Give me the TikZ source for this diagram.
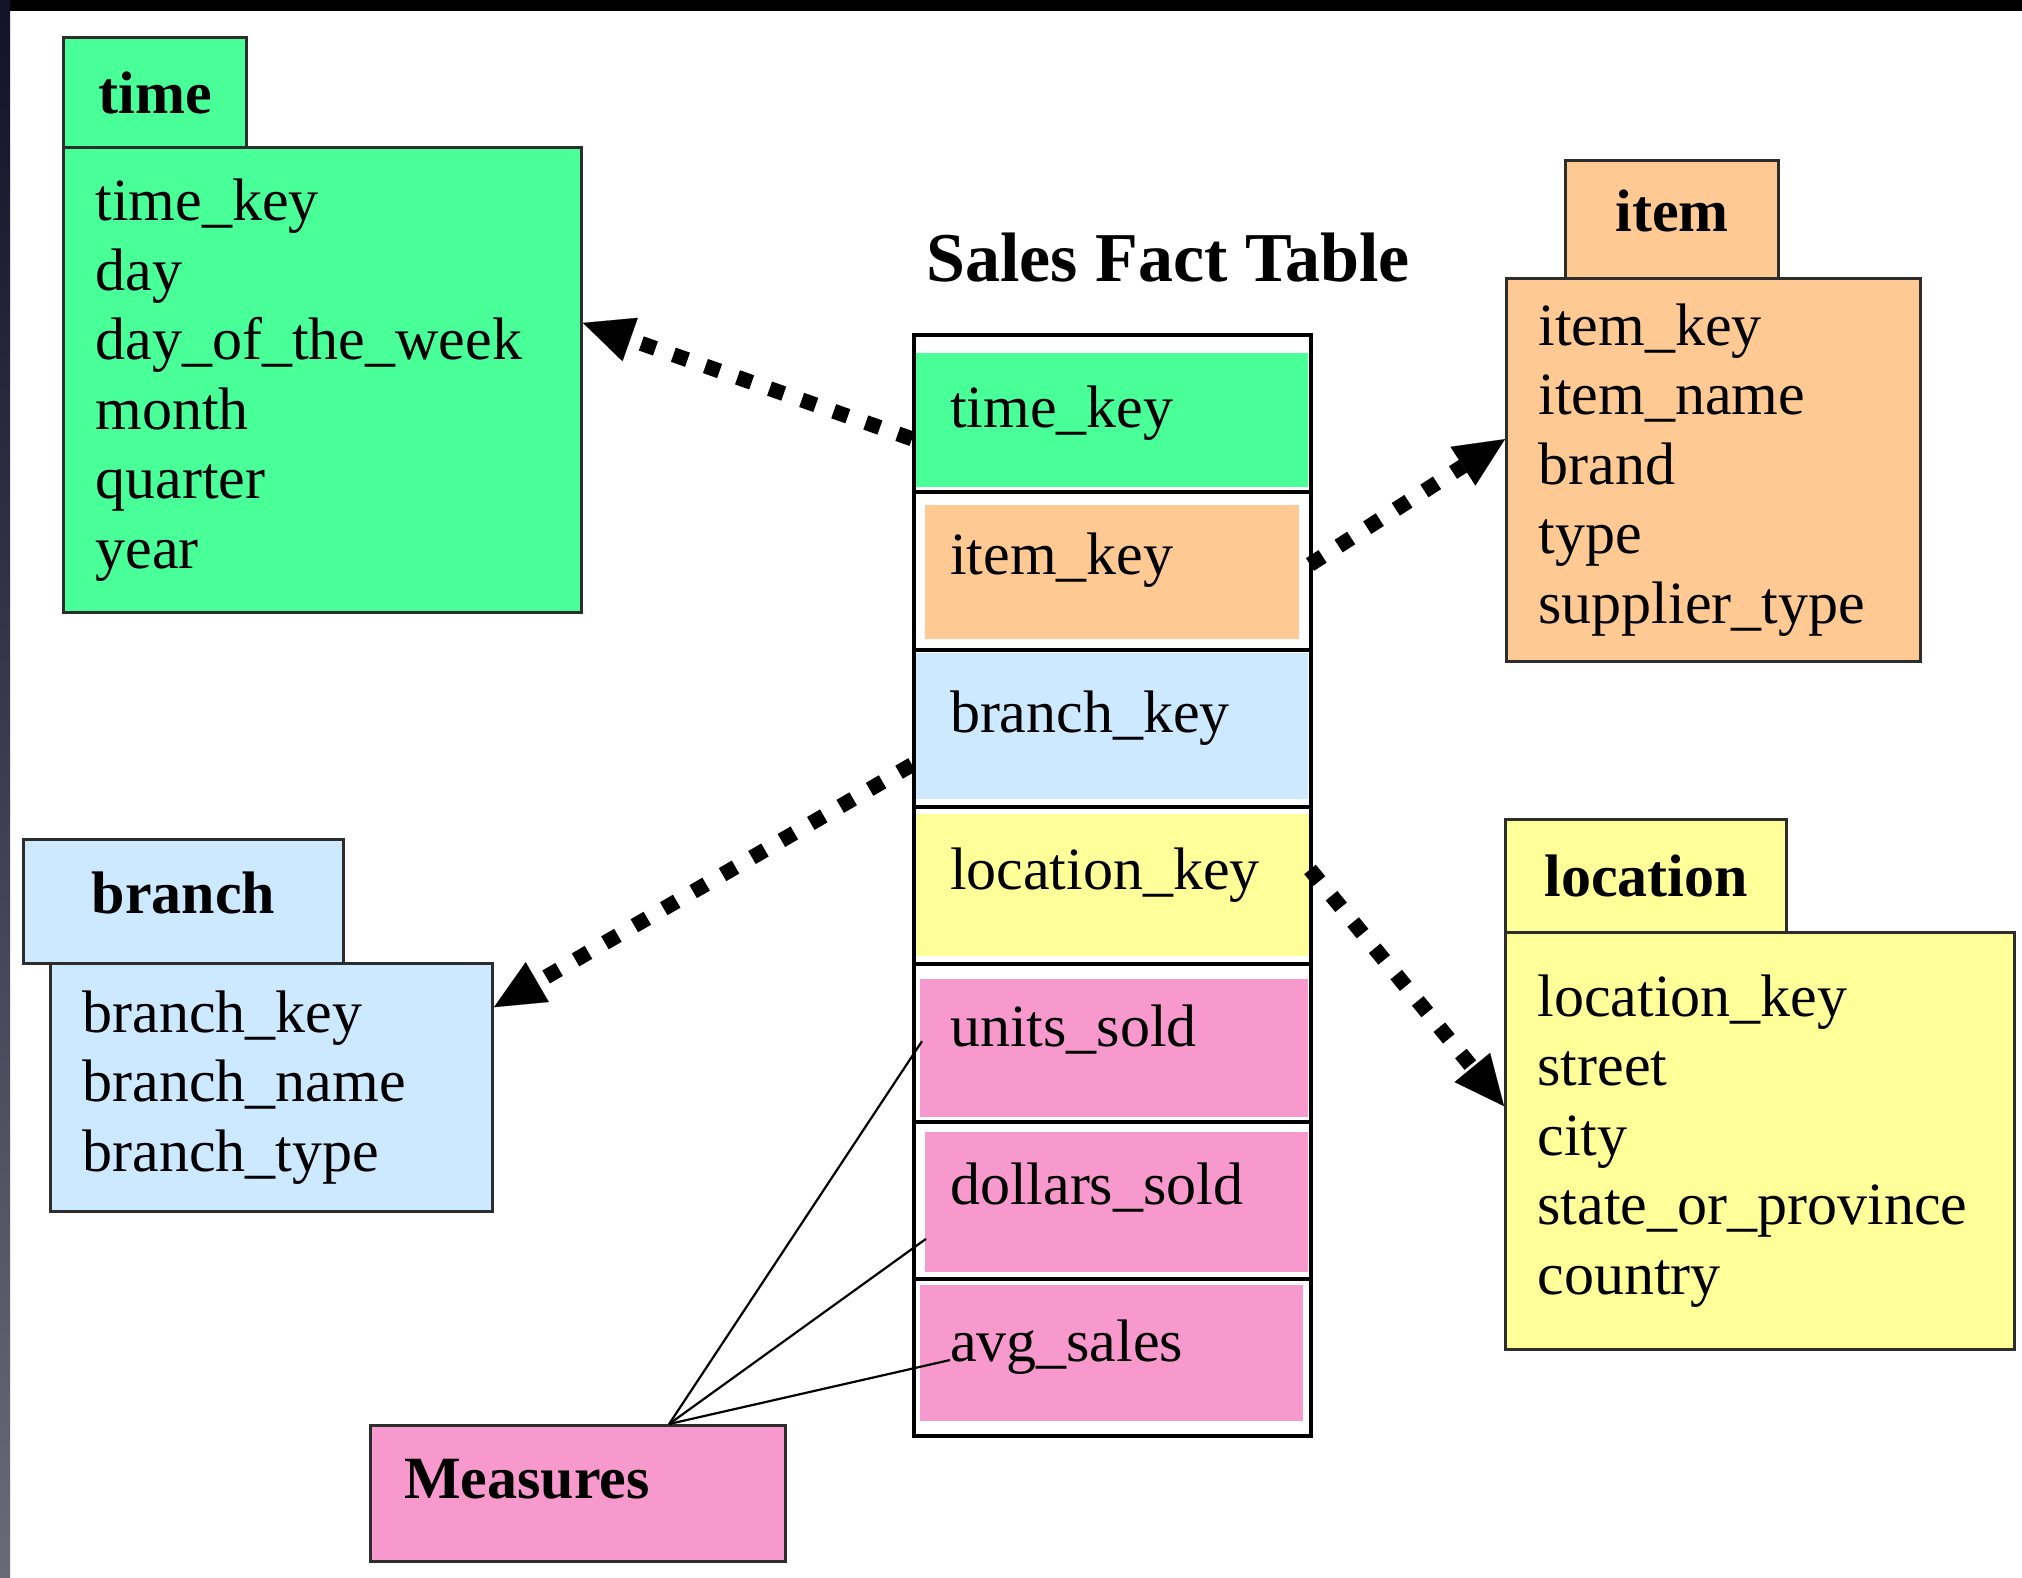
\documentclass[tikz,border=0pt]{standalone}
\usepackage{fontspec}
\setmainfont{Liberation Serif}
\usetikzlibrary{arrows.meta,calc}

\definecolor{dimgreen}{RGB}{72,255,152}
\definecolor{dimorange}{RGB}{255,201,148}
\definecolor{dimblue}{RGB}{204,233,255}
\definecolor{dimyellow}{RGB}{255,255,153}
\definecolor{dimpink}{RGB}{247,153,204}
\definecolor{edge}{RGB}{45,45,45}
\definecolor{framenavy}{RGB}{18,18,40}
\definecolor{framegray}{RGB}{105,105,120}

\begin{document}
\begin{tikzpicture}[x=1pt,y=-1pt,
  txt/.style={font=\fontsize{60}{69.5}\selectfont},
  boldtxt/.style={font=\fontsize{60}{69.5}\selectfont\bfseries},
  dimhead/.style={anchor=north west, draw=edge, line width=3pt, fill=#1,
    inner sep=0pt, boldtxt},
  dimbody/.style={anchor=north west, draw=edge, line width=3pt, fill=#1,
    inner xsep=32pt, inner ysep=0pt, align=left, txt},
  cell/.style n args={5}{anchor=north west, draw=black, line width=4pt,
    minimum width=397pt, minimum height=157.3pt, inner xsep=36pt, inner ysep=0pt,
    text width=325pt, align=left, txt,
    path picture={\fill[#1]
      ([xshift=#2pt,yshift=-#3pt]path picture bounding box.north west) rectangle
      ([xshift=-#4pt,yshift=#5pt]path picture bounding box.south east);}},
  raised/.style={text height=30pt, text depth=22pt},
  fk/.style={line width=15pt, dash pattern=on 15pt off 19pt,
    -{Triangle[length=50pt,width=46pt,line width=0.1pt]}},
  measline/.style={line width=2.2pt, black}
]
\useasboundingbox (0,0) rectangle (2022,1578);
\fill[white] (0,0) rectangle (2022,1578);
% dark frame along the top and left edges
\fill[black] (0,0) rectangle (2022,11);
\shade[top color=framenavy, bottom color=framegray] (0,0) rectangle (10,1578);

% fact table
\node[font=\fontsize{70}{82}\selectfont\bfseries] (title) at (1168,258) {Sales Fact Table};
\node[cell={dimgreen}{2}{18}{3}{5}]            (r1) at (912,333)    {time\_key};
\node[cell={dimorange}{11}{13}{12}{11}, raised] (r2) at (912,490.3)  {item\_key};
\node[cell={dimblue}{2}{3}{3}{8}, raised]      (r3) at (912,647.6)  {branch\_key};
\node[cell={dimyellow}{2}{7}{0}{8}, raised]    (r4) at (912,804.9)  {location\_key};
\node[cell={dimpink}{6}{15}{3}{5}, raised]     (r5) at (912,962.2)  {units\_sold};
\node[cell={dimpink}{11}{10}{3}{7}, raised]    (r6) at (912,1119.5) {dollars\_sold};
\node[cell={dimpink}{6}{6}{8}{15}, raised]     (r7) at (912,1276.8) {avg\_sales};

% time dimension
\node[dimbody=dimgreen, text width=454pt, minimum height=465pt] (timebody) at (62,146)
  {time\_key\\day\\day\_of\_the\_week\\month\\quarter\\year};
\node[dimhead=dimgreen, minimum width=183pt, minimum height=110pt] (timehead) at (62,36) {time};

% item dimension
\node[dimbody=dimorange, text width=350pt, minimum height=383pt] (itembody) at (1505,277)
  {item\_key\\item\_name\\brand\\type\\supplier\_type};
\node[dimhead=dimorange, minimum width=213pt, minimum height=118pt, text depth=18pt] (itemhead) at (1564,159) {item};

% branch dimension
\node[dimbody=dimblue, text width=378pt, minimum height=248pt] (brbody) at (49,962)
  {branch\_key\\branch\_name\\branch\_type};
\node[dimhead=dimblue, minimum width=320pt, minimum height=124pt, text depth=18pt] (brhead) at (22,838) {branch};

% location dimension
\node[dimbody=dimyellow, text width=445pt, minimum height=417pt] (locbody) at (1504,931)
  {location\_key\\street\\city\\state\_or\_province\\country};
\node[dimhead=dimyellow, minimum width=281pt, minimum height=113pt] (lochead) at (1504,818) {location};

% measures
\node[anchor=north west, draw=edge, line width=3pt, fill=dimpink, inner sep=0pt,
  minimum width=415pt, minimum height=136pt] (meas) at (369,1424) {};
\node[boldtxt, anchor=west, inner sep=0pt] (measlabel) at ($(meas.west)+(35,-14)$) {Measures};

% foreign key links
\draw[fk] ($(r1.north west)!0.656!(r1.south west)$) -- ($(timebody.north east)!0.378!(timebody.south east)$);
\draw[fk] ($(r2.north east)!0.46!(r2.south east)+(-3,0)$) -- ($(itembody.north west)!0.42!(itembody.south west)$);
\draw[fk] ($(r3.north west)!0.726!(r3.south west)$) -- ($(brbody.north east)!0.18!(brbody.south east)$);
\draw[fk] ($(r4.north east)!0.40!(r4.south east)+(-3,0)$) -- ($(locbody.north west)!0.417!(locbody.south west)$);

% measure links
\coordinate (mtop) at ($(meas.north west)!0.718!(meas.north east)$);
\draw[measline] (mtop) -- ($(r5.north west)!0.49!(r5.south west)+(10,0)$);
\draw[measline] (mtop) -- ($(r6.north west)!0.74!(r6.south west)+(14,0)$);
\draw[measline] (mtop) -- ($(r7.north west)!0.516!(r7.south west)+(38,0)$);
\end{tikzpicture}
\end{document}
